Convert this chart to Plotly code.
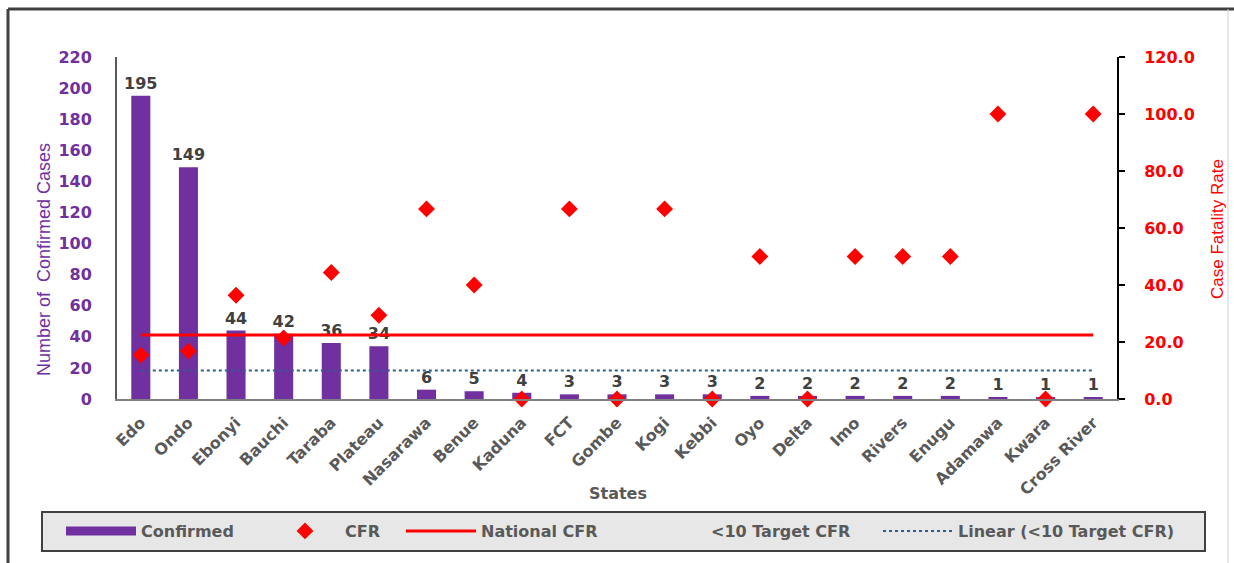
import plotly.graph_objects as go

states = ["Edo", "Ondo", "Ebonyi", "Bauchi", "Taraba", "Plateau", "Nasarawa", "Benue",
          "Kaduna", "FCT", "Gombe", "Kogi", "Kebbi", "Oyo", "Delta", "Imo", "Rivers",
          "Enugu", "Adamawa", "Kwara", "Cross River"]
confirmed = [195, 149, 44, 42, 36, 34, 6, 5, 4, 3, 3, 3, 3, 2, 2, 2, 2, 2, 1, 1, 1]
cfr = [15.4, 16.8, 36.4, 21.4, 44.4, 29.4, 66.7, 40.0, 0.0, 66.7, 0.0, 66.7, 0.0,
       50.0, 0.0, 50.0, 50.0, 50.0, 100.0, 0.0, 100.0]
national_cfr = [22.5] * len(states)
target_cfr = [10.0] * len(states)
left_ticks = list(range(0, 221, 20))
right_ticks = [0, 20, 40, 60, 80, 100, 120]

PURPLE = "#7030A0"
RED = "#FF0000"
GRAY = "#595959"
BOLD = "DejaVu Sans"
TITLE_FONT = "Liberation Sans"

W, H = 1234, 563
PL, PR, PT, PB = 117, 1117, 57, 399  # plot area in pixels


def px_x(p):
    return (p - PL) / (PR - PL)


def px_y(p):
    return (PB - p) / (PB - PT)


fig = go.Figure()
fig.add_trace(go.Bar(
    x=states, y=confirmed, name="Confirmed", marker=dict(color=PURPLE, line=dict(width=0)),
    width=0.4, text=[str(v) for v in confirmed], textposition="outside", constraintext="none",
    textfont=dict(family=BOLD, size=16, color="#404040", weight="bold"),
    cliponaxis=False, yaxis="y", showlegend=False, legendgroup="conf"))
# legend entry for the bars (wide rectangle swatch like the original)
fig.add_trace(go.Scatter(
    x=[None], y=[None], name="Confirmed", mode="lines", legendgroup="conf",
    line=dict(color=PURPLE, width=9), legend="legend"))
fig.add_trace(go.Scatter(
    x=states, y=cfr, name="CFR", mode="markers", yaxis="y2", legend="legend2",
    marker=dict(symbol="diamond", size=13, color=RED, line=dict(width=0)), cliponaxis=False))
fig.add_trace(go.Scatter(
    x=states, y=national_cfr, name="National CFR", mode="lines", yaxis="y2", legend="legend3",
    line=dict(color=RED, width=3)))
fig.add_trace(go.Scatter(
    x=states, y=target_cfr, name="<10 Target CFR", mode="lines", yaxis="y2", legend="legend4",
    line=dict(color="rgba(0,0,0,0)", width=0)))
fig.add_trace(go.Scatter(
    x=states, y=target_cfr, name="Linear (<10 Target CFR)", mode="lines", yaxis="y2",
    legend="legend5", line=dict(color="#2E5E8C", width=2, dash="dot")))


def leg(xpx):
    return dict(
        xref="container", yref="container", x=xpx / W, xanchor="left",
        y=1 - 531 / H, yanchor="middle", orientation="h",
        bgcolor="rgba(0,0,0,0)", borderwidth=0, itemwidth=70,
        font=dict(family=BOLD, size=16, color=GRAY, weight="bold"),
    )


fig.update_layout(
    width=W, height=H,
    margin=dict(l=PL, r=W - PR, t=PT, b=H - PB, autoexpand=False),
    paper_bgcolor="white", plot_bgcolor="white",
    showlegend=True,
    xaxis=dict(
        type="category", range=[-0.5, len(states) - 0.5], tickangle=-45, showgrid=False,
        showline=True, automargin=False, linecolor="#808080", linewidth=2, ticks="",
        ticklabelstandoff=6,
        tickfont=dict(family=BOLD, size=16, color=GRAY, weight="bold"),
    ),
    yaxis=dict(
        range=[0, 220], tickvals=left_ticks, showgrid=False, showline=True, automargin=False,
        linecolor=GRAY, linewidth=2, ticks="", zeroline=False, ticklabelstandoff=20,
        tickfont=dict(family=BOLD, size=16, color=PURPLE, weight="bold"),
    ),
    yaxis2=dict(
        range=[0, 120], tickvals=right_ticks, tickformat=".1f", overlaying="y", side="right",
        showgrid=False, showline=True, linecolor="black", linewidth=2, zeroline=False,
        automargin=False, ticks="outside", ticklen=6, tickwidth=2, tickcolor="black",
        ticklabelstandoff=16,
        tickfont=dict(family=BOLD, size=16, color=RED, weight="bold"),
    ),
    legend=leg(61),
    legend2=leg(265),
    legend3=leg(401),
    legend4=leg(631),
    legend5=leg(878),
    annotations=[
        dict(text="Number of  Confirmed Cases", textangle=-90, xref="paper", yref="paper",
             x=px_x(44), y=px_y(260), xanchor="center", yanchor="middle", showarrow=False,
             font=dict(family=TITLE_FONT, size=18, color=PURPLE)),
        dict(text="Case Fatality Rate", textangle=-90, xref="paper", yref="paper",
             x=px_x(1217), y=px_y(229), xanchor="center", yanchor="middle", showarrow=False,
             font=dict(family=TITLE_FONT, size=17, color=RED)),
        dict(text="States", xref="paper", yref="paper", x=px_x(618), y=px_y(494),
             xanchor="center", yanchor="middle", showarrow=False,
             font=dict(family=BOLD, size=16, color=GRAY, weight="bold")),
    ],
    shapes=[
        # legend box
        dict(type="rect", xref="paper", yref="paper", x0=px_x(42), x1=px_x(1205),
             y0=px_y(512), y1=px_y(551), fillcolor="#E7E7E7",
             line=dict(color="#404040", width=2), layer="below"),
        # outer frame
        dict(type="line", xref="paper", yref="paper", x0=px_x(8), x1=px_x(1240),
             y0=px_y(9), y1=px_y(9), line=dict(color="#404040", width=3)),
        dict(type="line", xref="paper", yref="paper", x0=px_x(8), x1=px_x(8),
             y0=px_y(9), y1=px_y(580), line=dict(color="#404040", width=3)),
        dict(type="line", xref="paper", yref="paper", x0=px_x(1228), x1=px_x(1228),
             y0=px_y(9), y1=px_y(580), line=dict(color="#D0D0D0", width=1)),
    ],
)

fig.write_html("out.html", config={"displayModeBar": False},
               post_script="document.body.style.margin='0';")
